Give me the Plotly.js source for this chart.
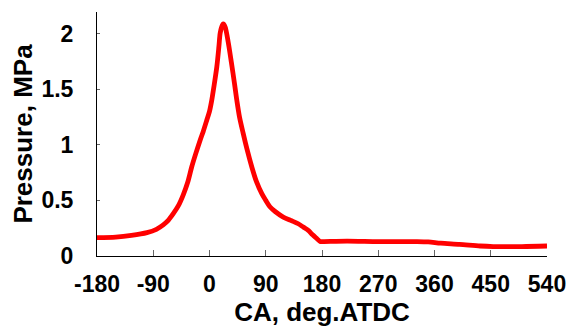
<!DOCTYPE html>
<html>
<head>
<meta charset="utf-8">
<script src="https://cdn.plot.ly/plotly-3.0.1.min.js"></script>
<style>html,body{margin:0;padding:0;background:#fff;}#chart{width:573px;height:331px;}</style>
</head>
<body>
<div id="chart"></div>
<script>
const crankAngle = [-180, -150, -125, -100, -85, -74, -66, -58, -50, -42, -35, -28.5, -22, -15, -10, -4.4, 0, 3.6, 7, 11.7, 15, 17, 19.5, 22, 25, 30, 35, 40, 43.7, 48, 54, 60, 67.7, 75, 83.7, 90, 97, 105, 118, 130, 142, 150, 158, 165, 172, 177, 182, 220, 270, 330, 350, 370, 400, 433, 454, 500, 540];
const pressure = [0.165, 0.17, 0.185, 0.21, 0.24, 0.28, 0.32, 0.38, 0.45, 0.55, 0.66, 0.80, 0.92, 1.04, 1.12, 1.22, 1.30, 1.40, 1.52, 1.70, 1.88, 2.00, 2.06, 2.085, 2.06, 1.92, 1.74, 1.55, 1.40, 1.25, 1.10, 0.96, 0.80, 0.67, 0.56, 0.50, 0.44, 0.40, 0.35, 0.32, 0.29, 0.26, 0.23, 0.19, 0.155, 0.13, 0.13, 0.134, 0.13, 0.13, 0.127, 0.115, 0.105, 0.09, 0.085, 0.085, 0.09];
const xTicks = [-180, -90, 0, 90, 180, 270, 360, 450, 540];
const yTicks = [0, 0.5, 1, 1.5, 2];
const yTickText = ['0', '0.5', '1', '1.5', '2'];

const fontFamily = 'Liberation Sans, Arial, sans-serif';
Plotly.newPlot('chart', [{
  x: crankAngle, y: pressure, type: 'scatter', mode: 'lines',
  line: {color: '#ff0000', width: 4.8, shape: 'spline', smoothing: 0.8},
  hoverinfo: 'skip'
}], {
  width: 573, height: 331,
  margin: {l: 97, r: 26, t: 12, b: 75, pad: 0},
  paper_bgcolor: '#fff', plot_bgcolor: '#fff',
  showlegend: false,
  xaxis: {
    range: [-180, 540], tickvals: xTicks, ticktext: xTicks.map(String),
    ticks: 'inside', ticklen: 6, tickwidth: 1, tickcolor: '#666',
    showline: true, linecolor: '#000', linewidth: 1, showgrid: false, zeroline: false,
    tickfont: {family: fontFamily, size: 23, color: '#000', weight: 700},
    ticklabelstandoff: 7,
    title: {text: 'CA, deg.ATDC', font: {family: fontFamily, size: 26, color: '#000', weight: 700}, standoff: 6}
  },
  yaxis: {
    range: [0, 2.193], tickvals: yTicks, ticktext: yTickText,
    ticks: 'inside', ticklen: 3, tickwidth: 1, tickcolor: '#666',
    showline: true, linecolor: '#000', linewidth: 1, showgrid: false, zeroline: false,
    tickfont: {family: fontFamily, size: 23, color: '#000', weight: 700},
    ticklabelstandoff: 18,
    title: {text: 'Pressure, MPa', font: {family: fontFamily, size: 26, color: '#000', weight: 700}, standoff: 1}
  }
}, {staticPlot: true});
</script>
</body>
</html>
